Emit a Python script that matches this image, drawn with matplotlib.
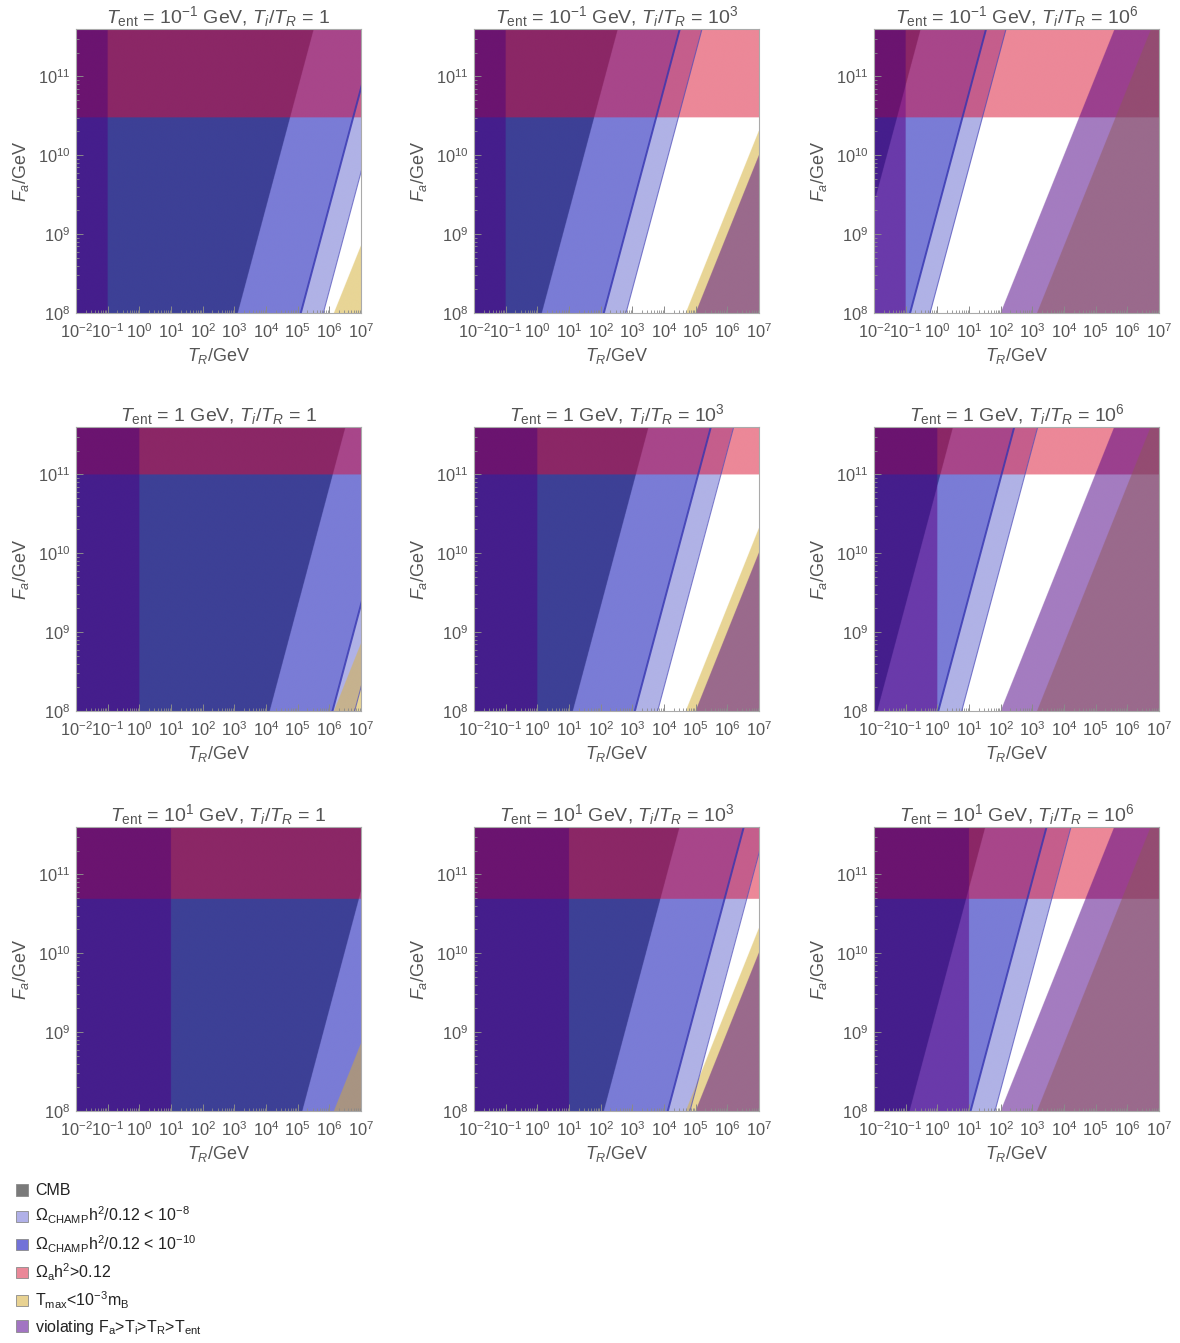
#!/usr/bin/env python3
"""
3x3 grid of (T_ent, T_i/T_R) panels showing the CHAMP / axion exclusion
regions in the (T_R, F_a) plane.  Every boundary is a straight line in
log10 space, so the values below are log10 exponents (GeV).
"""

import numpy as np
import matplotlib
matplotlib.use('Agg')
import matplotlib.pyplot as plt
from matplotlib.patches import Patch


# panel parameters
T_ENT_EXP = [-1, 0, 1]                  # rows
TI_TR_EXP = [0, 3, 6]                   # columns
T_ENT_LABELS = ['10$^{-1}$', '1', '10$^{1}$']
TI_TR_LABELS = ['1', '10$^{3}$', '10$^{6}$']

# Omega_a h^2 > 0.12 above this log10(F_a), one per row
OMEGA_A_FA = [10.48, 10.99, 10.68]

# CHAMP boundaries: log10(T_R) where each line crosses F_a = 1e8 GeV
# (rows = T_ent, cols = T_i/T_R)
CHAMP_DEEP_X0 = [[3.11, 0.14, -2.93],
                 [4.12, 1.12, -1.90],
                 [5.15, 2.10, -0.88]]
CHAMP_1E10_X0 = [[5.10, 2.10, -0.86],
                 [6.10, 3.08, 0.03],
                 [7.12, 4.12, 1.05]]
CHAMP_1E8_X0 = [[5.81, 2.80, -0.23],
                [6.80, 3.80, 0.77],
                [7.82, 4.82, 1.82]]
CHAMP_SLOPE = 1.5          # d log F_a / d log T_R

# T_max < 1e-3 m_B: right of a slope-1 line, crossing F_a = 1e8 at (per column)
TMAX_X0 = [6.15, 4.69, 3.15]

X_RANGE = (-2, 7)
Y_RANGE = (8, 11.6)

LEGEND_LABELS = [
    'CMB',
    r'$\Omega_{\mathrm{CHAMP}}\mathrm{h}^2$/0.12 < 10$^{-8}$',
    r'$\Omega_{\mathrm{CHAMP}}\mathrm{h}^2$/0.12 < 10$^{-10}$',
    r'$\Omega_{\mathrm{a}}\mathrm{h}^2$>0.12',
    r'T$_{\mathrm{max}}$<10$^{-3}$m$_{\mathrm{B}}$',
    r'violating F$_{\mathrm{a}}$>T$_{\mathrm{i}}$>T$_{\mathrm{R}}$>T$_{\mathrm{ent}}$',
]
LEGEND_COLORS = ['#7a7a7a', '#b0b0e8', '#7272d8', '#ea8898', '#e8d292', '#a274c2']

# zone colours, keyed (champ level, violating, omega_a, tmax)
ZONE_COLORS = {
    (0, 0, 0, 0): '#ffffff',
    (1, 0, 0, 0): '#b0b2e6',
    (2, 0, 0, 0): '#7a7cd6',
    (3, 0, 0, 0): '#3d4096',
    (0, 0, 1, 0): '#ec8898',
    (1, 0, 1, 0): '#c55e8c',
    (2, 0, 1, 0): '#a8468a',
    (3, 0, 1, 0): '#8b2766',
    (0, 1, 0, 0): '#a47cc0',
    (0, 1, 1, 0): '#9b408e',
    (0, 1, 0, 1): '#9a6a8c',
    (0, 1, 1, 1): '#944c72',
    (3, 1, 0, 0): '#451e8c',
    (3, 1, 1, 0): '#6b1470',
    (2, 1, 0, 0): '#6a3aaa',
    (2, 1, 1, 0): '#8a2688',
    (0, 0, 0, 1): '#e8d596',
    (1, 0, 0, 1): '#c6b28e',
    (2, 0, 0, 1): '#a89482',
}

TEXT_GRAY = '#555555'


def hex_rgb(h):
    h = h.lstrip('#')
    return np.array([int(h[i:i + 2], 16) for i in (0, 2, 4)]) / 255.0


def build_palette():
    # fallback: multiply blend of the single-layer colours
    base_level = [hex_rgb(ZONE_COLORS[(k, 0, 0, 0)]) for k in range(4)]
    v = hex_rgb(ZONE_COLORS[(0, 1, 0, 0)])
    p = hex_rgb(ZONE_COLORS[(0, 0, 1, 0)])
    t = hex_rgb(ZONE_COLORS[(0, 0, 0, 1)])
    pal = np.zeros((32, 3))
    for lev in range(4):
        for iv in range(2):
            for ip in range(2):
                for it in range(2):
                    key = (lev, iv, ip, it)
                    if key in ZONE_COLORS:
                        c = hex_rgb(ZONE_COLORS[key])
                    else:
                        c = base_level[lev].copy()
                        if iv:
                            c = c * v
                        if ip:
                            c = c * p
                        if it:
                            c = c * t
                    pal[lev * 8 + iv * 4 + ip * 2 + it] = c
    return pal


def panel_image(row, col, palette, n=900):
    xs = np.linspace(X_RANGE[0], X_RANGE[1], n)
    ys = np.linspace(Y_RANGE[0], Y_RANGE[1], n)
    X, Y = np.meshgrid(xs, ys)
    dy = (Y - Y_RANGE[0]) / CHAMP_SLOPE

    level = ((X < CHAMP_DEEP_X0[row][col] + dy).astype(int)
             + (X < CHAMP_1E10_X0[row][col] + dy)
             + (X < CHAMP_1E8_X0[row][col] + dy))
    viol = (X < T_ENT_EXP[row]) | (Y < X + TI_TR_EXP[col])
    omega = Y > OMEGA_A_FA[row]
    tmax = X > TMAX_X0[col] + (Y - Y_RANGE[0])

    idx = level * 8 + viol.astype(int) * 4 + omega.astype(int) * 2 + tmax
    return palette[idx]


def style_axes(ax, row, col):
    ax.set_xlim(*X_RANGE)
    ax.set_ylim(*Y_RANGE)
    xt = np.arange(X_RANGE[0], X_RANGE[1] + 1)
    yt = np.arange(8, 12)
    ax.set_xticks(xt)
    ax.set_xticklabels(['10$^{%d}$' % k for k in xt])
    ax.set_yticks(yt)
    ax.set_yticklabels(['10$^{%d}$' % k for k in yt])
    minor = np.log10(np.arange(2, 10))
    ax.set_xticks([k + m for k in xt[:-1] for m in minor], minor=True)
    ax.set_yticks([k + m for k in range(8, 12) for m in minor
                   if k + m < Y_RANGE[1]], minor=True)
    ax.tick_params(which='both', direction='in', top=False, right=False,
                   color='#8a8a8a', labelcolor=TEXT_GRAY)
    ax.tick_params(axis='x', labelsize=11.8, pad=6.5)
    ax.tick_params(axis='y', labelsize=11.8, pad=4)
    ax.tick_params(which='major', length=5, width=0.7)
    ax.tick_params(which='minor', length=2.5, width=0.6)
    for sp in ax.spines.values():
        sp.set_color('#aaaaaa')
        sp.set_linewidth(0.8)
    ax.set_xlabel(r'$T_R$/GeV', color=TEXT_GRAY, fontsize=13, labelpad=4)
    ax.set_ylabel(r'$F_a$/GeV', color=TEXT_GRAY, fontsize=13, labelpad=5)
    ax.set_title(r'$T_{\mathrm{ent}}$ = %s GeV, $T_i/T_R$ = %s'
                 % (T_ENT_LABELS[row], TI_TR_LABELS[col]),
                 color=TEXT_GRAY, fontsize=14, pad=4)


def main():
    plt.rcParams['font.family'] = ['Liberation Sans', 'DejaVu Sans']
    plt.rcParams['mathtext.fontset'] = 'custom'
    plt.rcParams['mathtext.rm'] = 'Liberation Sans'
    plt.rcParams['mathtext.it'] = 'Liberation Sans:italic'
    plt.rcParams['mathtext.bf'] = 'Liberation Sans:bold'

    fig = plt.figure(figsize=(11.8, 13.43), dpi=100)
    W, H = 1180.0, 1343.0
    lefts = [76, 474, 874]
    tops = [29, 427, 827]
    size_w, size_h = 285, 284

    palette = build_palette()
    yl = np.array(Y_RANGE)

    for r in range(3):
        for c in range(3):
            ax = fig.add_axes([lefts[c] / W, 1 - (tops[r] + size_h) / H,
                               size_w / W, size_h / H])
            img = panel_image(r, c, palette)
            ax.imshow(img, origin='lower', aspect='auto',
                      extent=[X_RANGE[0], X_RANGE[1], Y_RANGE[0], Y_RANGE[1]],
                      interpolation='antialiased', zorder=0)
            # CHAMP boundary lines
            ax.plot(CHAMP_1E10_X0[r][c] + (yl - 8) / CHAMP_SLOPE, yl,
                    color='#3434b0', lw=1.4, alpha=0.8, zorder=2)
            ax.plot(CHAMP_1E8_X0[r][c] + (yl - 8) / CHAMP_SLOPE, yl,
                    color='#4a4ab8', lw=0.8, alpha=0.7, zorder=2)
            style_axes(ax, r, c)

    handles = [Patch(facecolor=col, edgecolor='#8a8a8a', linewidth=0.6)
               for col in LEGEND_COLORS]
    fig.legend(handles, LEGEND_LABELS, loc='upper left',
               bbox_to_anchor=(10 / W, 1 - 1177 / H), frameon=False,
               fontsize=11.5, handlelength=0.72, handleheight=0.72,
               handletextpad=0.45, labelspacing=0.42, borderaxespad=0,
               labelcolor='#222222')

    fig.savefig('out.png', dpi=100)
    plt.close(fig)


if __name__ == '__main__':
    main()
